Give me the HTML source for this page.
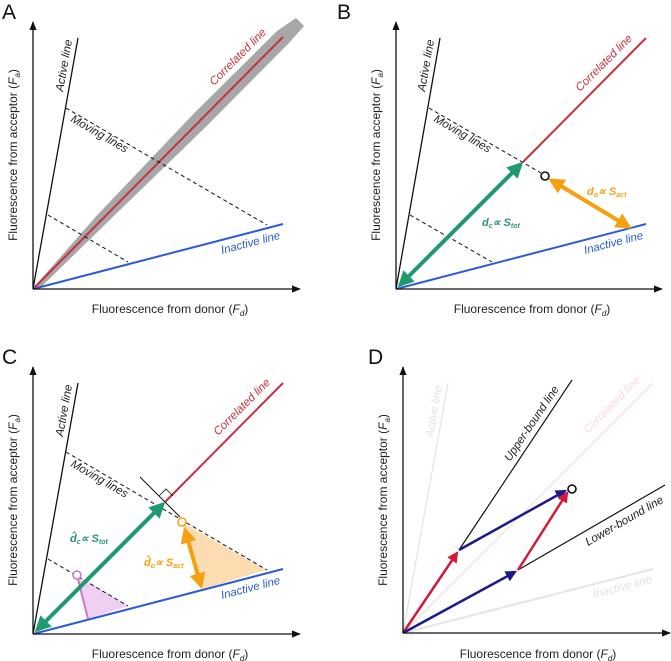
<!DOCTYPE html>
<html><head><meta charset="utf-8"><style>
html,body{margin:0;padding:0;background:#fff;}
svg{display:block;font-family:"Liberation Sans",sans-serif;}
.ax{stroke:#111;stroke-width:1.3;fill:none}
.lbl{font-size:12px;fill:#222}
.it{font-size:11.5px;font-style:italic}
.pl{font-size:21px;fill:#111}
</style></head><body>
<svg width="671" height="661" viewBox="0 0 671 661">
<defs>
<marker id="ah" viewBox="0 0 10 10" refX="9" refY="5" markerWidth="7" markerHeight="7" orient="auto"><path d="M0,1 L10,5 L0,9 z" fill="#111"/></marker>
<marker id="g" viewBox="0 0 10 10" refX="8" refY="5" markerWidth="4" markerHeight="4" orient="auto-start-reverse"><path d="M0,0 L10,5 L0,10 z" fill="#1f9a6e"/></marker>
<marker id="o" viewBox="0 0 10 10" refX="8" refY="5" markerWidth="4" markerHeight="4" orient="auto-start-reverse"><path d="M0,0 L10,5 L0,10 z" fill="#f5a00f"/></marker>
<marker id="r" viewBox="0 0 10 10" refX="8" refY="5" markerWidth="4.5" markerHeight="4.5" orient="auto"><path d="M0,0 L10,5 L0,10 z" fill="#d41a3a"/></marker>
<marker id="b" viewBox="0 0 10 10" refX="8" refY="5" markerWidth="4.5" markerHeight="4.5" orient="auto"><path d="M0,0 L10,5 L0,10 z" fill="#1a1a8a"/></marker>
</defs>

<!-- Panel A -->
<g>
<text class="pl" x="2" y="19">A</text>
<polygon points="34,287 95.7,216.8 193.6,113.7 277,31 296,18 304,26 289,43 206.4,126.3 104.3,225.2 38,290" fill="#8a8a8a" opacity="0.75"/>
<line x1="33" y1="289" x2="78" y2="38" stroke="#111" stroke-width="1.3"/>
<line x1="33" y1="289" x2="283" y2="37" stroke="#c8303a" stroke-width="2"/>
<line x1="33" y1="289" x2="283" y2="224" stroke="#2b5bd6" stroke-width="2"/>
<line x1="66" y1="108" x2="267" y2="225" stroke="#111" stroke-width="1" stroke-dasharray="4,3"/>
<line x1="48" y1="215" x2="128" y2="262" stroke="#111" stroke-width="1" stroke-dasharray="4,3"/>
<line x1="33" y1="289" x2="33" y2="22" class="ax" marker-end="url(#ah)"/>
<line x1="33" y1="289" x2="300" y2="289" class="ax" marker-end="url(#ah)"/>
<text class="it" fill="#222" transform="translate(63,92) rotate(-80)">Active line</text>
<text class="it" fill="#c8303a" transform="translate(214,86) rotate(-45)">Correlated line</text>
<text class="it" fill="#2b5bd6" transform="translate(222,254) rotate(-14.6)">Inactive line</text>
<text class="it" fill="#222" transform="translate(70,121) rotate(30)">Moving lines</text>
<text class="lbl" transform="translate(17,155) rotate(-90)" text-anchor="middle">Fluorescence from acceptor (<tspan font-style="italic">F</tspan><tspan font-size="8" dy="3" font-style="italic">a</tspan><tspan dy="-3">)</tspan></text>
<text class="lbl" x="170" y="313" text-anchor="middle">Fluorescence from donor (<tspan font-style="italic">F</tspan><tspan font-size="8" dy="3" font-style="italic">d</tspan><tspan dy="-3">)</tspan></text>
</g>

<!-- Panel B -->
<g>
<text class="pl" x="337" y="19">B</text>
<line x1="396" y1="289" x2="440" y2="38" stroke="#111" stroke-width="1.3"/>
<line x1="523" y1="162" x2="646" y2="38" stroke="#c8303a" stroke-width="2"/>
<line x1="396" y1="289" x2="646" y2="224" stroke="#2b5bd6" stroke-width="2"/>
<line x1="429" y1="108" x2="541" y2="173" stroke="#111" stroke-width="1" stroke-dasharray="4,3"/>
<line x1="410" y1="215" x2="492" y2="262" stroke="#111" stroke-width="1" stroke-dasharray="4,3"/>
<line x1="400" y1="285" x2="521" y2="164" stroke="#1f9a6e" stroke-width="4" marker-start="url(#g)" marker-end="url(#g)"/>
<line x1="551" y1="180" x2="629" y2="227" stroke="#f5a00f" stroke-width="4" marker-start="url(#o)" marker-end="url(#o)"/>
<circle cx="545" cy="176" r="4" fill="#fff" stroke="#111" stroke-width="1.6"/>
<line x1="396" y1="289" x2="396" y2="22" class="ax" marker-end="url(#ah)"/>
<line x1="396" y1="289" x2="662" y2="289" class="ax" marker-end="url(#ah)"/>
<text class="it" fill="#222" transform="translate(425,92) rotate(-80)">Active line</text>
<text class="it" fill="#c8303a" transform="translate(580,92) rotate(-45)">Correlated line</text>
<text class="it" fill="#2b5bd6" transform="translate(585,254) rotate(-14.6)">Inactive line</text>
<text class="it" fill="#222" transform="translate(433,121) rotate(30)">Moving lines</text>
<text font-size="11" font-weight="bold" font-style="italic" fill="#1f9a6e" x="482" y="226">d<tspan font-size="7" dy="2">c</tspan><tspan dy="-2">∝ S</tspan><tspan font-size="7" dy="2">tot</tspan></text>
<text font-size="11" font-weight="bold" font-style="italic" fill="#f5a00f" x="587" y="195">d<tspan font-size="7" dy="2">o</tspan><tspan dy="-2">∝ S</tspan><tspan font-size="7" dy="2">act</tspan></text>
<text class="lbl" transform="translate(380,155) rotate(-90)" text-anchor="middle">Fluorescence from acceptor (<tspan font-style="italic">F</tspan><tspan font-size="8" dy="3" font-style="italic">a</tspan><tspan dy="-3">)</tspan></text>
<text class="lbl" x="532" y="313" text-anchor="middle">Fluorescence from donor (<tspan font-style="italic">F</tspan><tspan font-size="8" dy="3" font-style="italic">d</tspan><tspan dy="-3">)</tspan></text>
</g>

<!-- Panel C -->
<g>
<text class="pl" x="2" y="364">C</text>
<polygon points="182,522 266,570 203,589" fill="#fcdcb0"/>
<polygon points="77,575 128,606 88,619" fill="#f0d0f0"/>
<line x1="33" y1="634" x2="78" y2="383" stroke="#111" stroke-width="1.3"/>
<line x1="165" y1="502" x2="283" y2="383" stroke="#c8303a" stroke-width="2"/>
<line x1="33" y1="634" x2="283" y2="569" stroke="#2b5bd6" stroke-width="2"/>
<line x1="66" y1="452" x2="267" y2="570" stroke="#111" stroke-width="1" stroke-dasharray="4,3"/>
<line x1="48" y1="559" x2="128" y2="606" stroke="#111" stroke-width="1" stroke-dasharray="4,3"/>
<line x1="140" y1="477" x2="180" y2="517" stroke="#111" stroke-width="1"/>
<path d="M159,496 L166,489 L173,496" fill="none" stroke="#111" stroke-width="0.8"/>
<line x1="77" y1="575" x2="88" y2="619" stroke="#cc77cc" stroke-width="2"/>
<circle cx="77" cy="575" r="4" fill="#fff" stroke="#cc77cc" stroke-width="1.6"/>
<line x1="37" y1="630" x2="163" y2="504" stroke="#1f9a6e" stroke-width="4" marker-start="url(#g)" marker-end="url(#g)"/>
<line x1="185" y1="530" x2="201" y2="586" stroke="#f5a00f" stroke-width="4" marker-start="url(#o)" marker-end="url(#o)"/>
<circle cx="182" cy="522" r="4" fill="#fff" stroke="#f5a00f" stroke-width="1.6"/>
<line x1="33" y1="634" x2="33" y2="367" class="ax" marker-end="url(#ah)"/>
<line x1="33" y1="634" x2="300" y2="634" class="ax" marker-end="url(#ah)"/>
<text class="it" fill="#222" transform="translate(63,437) rotate(-80)">Active line</text>
<text class="it" fill="#c8303a" transform="translate(218,436) rotate(-45)">Correlated line</text>
<text class="it" fill="#2b5bd6" transform="translate(222,599) rotate(-14.6)">Inactive line</text>
<text class="it" fill="#222" transform="translate(70,466) rotate(30)">Moving lines</text>
<text font-size="11" font-weight="bold" font-style="italic" fill="#1f9a6e" x="70" y="542">d̂<tspan font-size="7" dy="2">c</tspan><tspan dy="-2">∝ S</tspan><tspan font-size="7" dy="2">tot</tspan></text>
<text font-size="11" font-weight="bold" font-style="italic" fill="#f5a00f" x="144" y="566">d̂<tspan font-size="7" dy="2">o</tspan><tspan dy="-2">∝ S</tspan><tspan font-size="7" dy="2">act</tspan></text>
<text class="lbl" transform="translate(17,500) rotate(-90)" text-anchor="middle">Fluorescence from acceptor (<tspan font-style="italic">F</tspan><tspan font-size="8" dy="3" font-style="italic">a</tspan><tspan dy="-3">)</tspan></text>
<text class="lbl" x="170" y="658" text-anchor="middle">Fluorescence from donor (<tspan font-style="italic">F</tspan><tspan font-size="8" dy="3" font-style="italic">d</tspan><tspan dy="-3">)</tspan></text>
</g>

<!-- Panel D -->
<g>
<text class="pl" x="368" y="364">D</text>
<line x1="403" y1="633" x2="448" y2="383" stroke="#e4e4e4" stroke-width="1.3"/>
<line x1="403" y1="633" x2="653" y2="383" stroke="#f6dede" stroke-width="1.3"/>
<line x1="403" y1="633" x2="653" y2="569" stroke="#e4e4e4" stroke-width="2"/>
<line x1="459" y1="550" x2="572" y2="380" stroke="#111" stroke-width="1.2"/>
<line x1="518" y1="570" x2="665" y2="485" stroke="#111" stroke-width="1.2"/>
<line x1="403" y1="633" x2="457" y2="553" stroke="#d41a3a" stroke-width="2.5" marker-end="url(#r)"/>
<line x1="459" y1="550" x2="565" y2="491" stroke="#1a1a8a" stroke-width="2.5" marker-end="url(#b)"/>
<line x1="403" y1="633" x2="515" y2="572" stroke="#1a1a8a" stroke-width="2.5" marker-end="url(#b)"/>
<line x1="518" y1="570" x2="567" y2="493" stroke="#d41a3a" stroke-width="2.5" marker-end="url(#r)"/>
<circle cx="572" cy="489" r="4" fill="#fff" stroke="#111" stroke-width="1.6"/>
<line x1="403" y1="633" x2="403" y2="367" class="ax" marker-end="url(#ah)"/>
<line x1="403" y1="633" x2="670" y2="633" class="ax" marker-end="url(#ah)"/>
<text class="it" fill="#e2e2e2" transform="translate(433,438) rotate(-80)">Active line</text>
<text class="it" fill="#f6dcdc" transform="translate(588,434) rotate(-45)">Correlated line</text>
<text class="it" fill="#e2e2e2" transform="translate(594,598) rotate(-14.6)">Inactive line</text>
<text class="it" fill="#222" transform="translate(510,462) rotate(-56)">Upper-bound line</text>
<text class="it" fill="#222" transform="translate(588,546) rotate(-30)">Lower-bound line</text>
<text class="lbl" transform="translate(387,500) rotate(-90)" text-anchor="middle">Fluorescence from acceptor (<tspan font-style="italic">F</tspan><tspan font-size="8" dy="3" font-style="italic">a</tspan><tspan dy="-3">)</tspan></text>
<text class="lbl" x="538" y="658" text-anchor="middle">Fluorescence from donor (<tspan font-style="italic">F</tspan><tspan font-size="8" dy="3" font-style="italic">d</tspan><tspan dy="-3">)</tspan></text>
</g>
</svg>
</body></html>
